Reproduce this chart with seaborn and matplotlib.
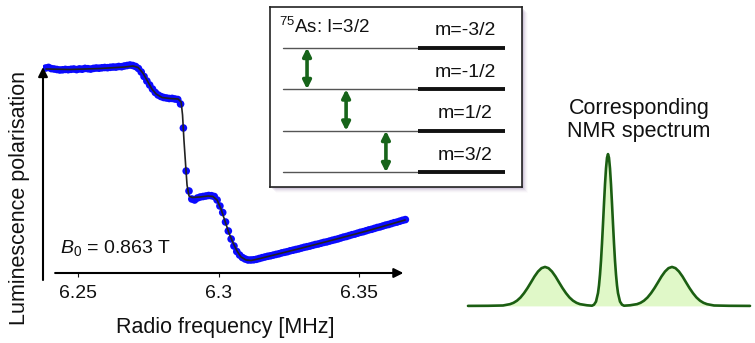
import numpy as np
import pandas as pd
import matplotlib.pyplot as plt
import matplotlib.patches as mpatches
import seaborn as sns

# measured data: luminescence polarisation vs RF frequency (arb. units)
freq = [
    6.2385, 6.2395, 6.2405, 6.2415, 6.2425, 6.2435, 6.2445, 6.2455, 6.2465, 6.2475,
    6.2485, 6.2495, 6.2505, 6.2515, 6.2525, 6.2535, 6.2545, 6.2555, 6.2565, 6.2575,
    6.2585, 6.2595, 6.2605, 6.2615, 6.2625, 6.2635, 6.2645, 6.2655, 6.2665, 6.2675,
    6.2685, 6.2695, 6.2705, 6.2715, 6.2725, 6.2735, 6.2745, 6.2755, 6.2765, 6.2775,
    6.2785, 6.2795, 6.2805, 6.2815, 6.2825, 6.2835, 6.2845, 6.2855, 6.2865, 6.2875,
    6.2885, 6.2895, 6.2905, 6.2915, 6.2925, 6.2935, 6.2945, 6.2955, 6.2965, 6.2975,
    6.2985, 6.2995, 6.3005, 6.3015, 6.3025, 6.3035, 6.3045, 6.3055, 6.3065, 6.3075,
    6.3085, 6.3095, 6.3105, 6.3115, 6.3125, 6.3135, 6.3145, 6.3155, 6.3165, 6.3175,
    6.3185, 6.3195, 6.3205, 6.3215, 6.3225, 6.3235, 6.3245, 6.3255, 6.3265, 6.3275,
    6.3285, 6.3295, 6.3305, 6.3315, 6.3325, 6.3335, 6.3345, 6.3355, 6.3365, 6.3375,
    6.3385, 6.3395, 6.3405, 6.3415, 6.3425, 6.3435, 6.3445, 6.3455, 6.3465, 6.3475,
    6.3485, 6.3495, 6.3505, 6.3515, 6.3525, 6.3535, 6.3545, 6.3555, 6.3565, 6.3575,
    6.3585, 6.3595, 6.3605, 6.3615, 6.3625, 6.3635, 6.3645, 6.3655, 6.3665,
]
pol = [
    20.70, 20.76, 20.64, 20.60, 20.55, 20.50, 20.52, 20.56, 20.53, 20.57,
    20.60, 20.54, 20.61, 20.58, 20.66, 20.63, 20.59, 20.66, 20.70, 20.68,
    20.72, 20.75, 20.73, 20.77, 20.80, 20.79, 20.85, 20.83, 20.90, 20.95,
    21.00, 20.95, 20.85, 20.65, 20.30, 19.85, 19.40, 19.00, 18.60, 18.25,
    18.00, 17.85, 17.75, 17.70, 17.65, 17.66, 17.60, 17.55, 17.10, 14.70,
    10.40, 8.40, 7.60, 7.50, 7.70, 7.80, 7.85, 7.90, 7.95, 7.93,
    7.85, 7.50, 6.90, 6.25, 5.30, 4.40, 3.60, 2.90, 2.35, 2.00,
    1.75, 1.60, 1.50, 1.50, 1.52, 1.57, 1.65, 1.73, 1.80, 1.87,
    1.92, 1.99, 2.06, 2.12, 2.21, 2.27, 2.33, 2.42, 2.48, 2.55,
    2.61, 2.69, 2.77, 2.83, 2.89, 2.97, 3.05, 3.10, 3.18, 3.26,
    3.31, 3.39, 3.47, 3.54, 3.61, 3.70, 3.79, 3.85, 3.94, 4.03,
    4.09, 4.18, 4.27, 4.33, 4.42, 4.51, 4.57, 4.66, 4.75, 4.81,
    4.90, 4.99, 5.05, 5.14, 5.23, 5.29, 5.38, 5.47, 5.54,
]

# fitted curve
fit_freq = [6.2386, 6.2472, 6.2578, 6.2667, 6.2696, 6.2714, 6.2731, 6.2749, 6.2763,
            6.2778, 6.2799, 6.2827, 6.2856, 6.2867, 6.2872, 6.2877, 6.2883, 6.2888,
            6.2895, 6.2906, 6.2934, 6.2963, 6.2980, 6.2995, 6.3009, 6.3023, 6.3037,
            6.3052, 6.3066, 6.3080, 6.3098, 6.3116, 6.3148, 6.3183, 6.3290, 6.3407,
            6.3528, 6.3664]
fit_pol = [20.60, 20.55, 20.65, 20.80, 20.90, 20.75, 20.20, 19.30, 18.60,
           18.10, 17.75, 17.65, 17.60, 17.30, 16.00, 13.50, 11.00, 9.00,
           7.90, 7.75, 7.80, 7.90, 7.85, 7.50, 6.60, 5.40, 4.20,
           3.20, 2.40, 1.80, 1.50, 1.45, 1.65, 1.90, 2.65, 3.50,
           4.40, 5.50]

freq_ticks = [6.25, 6.30, 6.35]
freq_tick_labels = ["6.25", "6.3", "6.35"]

# energy level diagram of 75As (I=3/2)
m_labels = ["m=-3/2", "m=-1/2", "m=1/2", "m=3/2"]
m_values = [-1.5, -0.5, 0.5, 1.5]

# NMR spectrum (arb. frequency offset, intensity)
nmr_x = [-140, -120, -105, -98, -94.5, -91, -87.5, -84, -80.5, -77, -73.5, -70,
         -66.5, -63, -59.5, -56, -52.5, -49, -45.5, -42, -38.5, -35, -31.5, -28,
         -21, -16, -14, -12, -10, -9, -8, -7, -6, -5, -4, -3, -2, -1, 0,
         1, 2, 3, 4, 5, 6, 7, 8, 9, 10, 12, 14, 16,
         22, 29, 32.5, 36, 39.5, 43, 46.5, 50, 53.5, 57, 60.5, 64, 67.5, 71,
         74.5, 78, 81.5, 85, 88.5, 92, 95.5, 99, 106, 121, 142]
nmr_y = [0.0, 0.1, 0.4, 1.7, 3.0, 5.1, 8.2, 12.4, 17.4, 23.0, 28.7, 33.5,
         36.8, 38.0, 36.8, 33.5, 28.7, 23.0, 17.4, 12.4, 8.2, 5.1, 3.0, 1.7,
         0.6, 0.2, 1.2, 4.2, 12.5, 20.0, 30.5, 44.0, 61.0, 80.0, 99.8, 118.5, 134.0, 144.4, 148.0,
         144.4, 134.0, 118.5, 99.8, 80.0, 61.0, 44.0, 30.5, 20.0, 12.5, 4.2, 1.2, 0.2,
         0.6, 1.7, 3.0, 5.1, 8.2, 12.4, 17.4, 23.0, 28.7, 33.5, 36.8, 38.0, 36.8, 33.5,
         28.7, 23.0, 17.4, 12.4, 8.2, 5.1, 3.0, 1.7, 0.4, 0.1, 0.0]

sns.set_theme(style="white")
plt.rcParams['font.family'] = ['Liberation Sans', 'DejaVu Sans']
plt.rcParams['mathtext.fontset'] = 'custom'
plt.rcParams['mathtext.rm'] = 'Liberation Sans'
plt.rcParams['mathtext.it'] = 'Liberation Sans:italic'

W, H = 755, 343


def px_box(l, t, r, b):
    return [l / W, 1 - b / H, (r - l) / W, (b - t) / H]


fig = plt.figure(figsize=(7.55, 3.43), dpi=100)

# ---- main panel ----
ax = fig.add_axes(px_box(43, 60, 410, 273))
ax.patch.set_visible(False)
df = pd.DataFrame({"freq": freq, "pol": pol})
df_fit = pd.DataFrame({"freq": fit_freq, "pol": fit_pol})
sns.scatterplot(data=df, x="freq", y="pol", ax=ax, s=30, color="#0a0aff",
                edgecolor="none", linewidth=0, zorder=2)
sns.lineplot(data=df_fit, x="freq", y="pol", ax=ax, color="#222222", lw=1.2,
             zorder=3, sort=False)
ax.set_xlim(6.23754, 6.36815)
ax.set_ylim(0.2, 21.5)
for s in ax.spines.values():
    s.set_visible(False)
ax.set_yticks([])
ax.set_xticks(freq_ticks)
ax.set_xticklabels(freq_tick_labels, fontsize=14, color="#111111")
ax.tick_params(axis="x", length=3, width=0.8, pad=6, color="#111111", bottom=True)
ax.set_xlabel("")
ax.set_ylabel("")
ax.annotate("", xy=(0, 0.967), xytext=(0, -0.033), xycoords="axes fraction",
            arrowprops=dict(arrowstyle="-|>", lw=1.5, color="black",
                            mutation_scale=14, shrinkA=0, shrinkB=0),
            annotation_clip=False)
ax.annotate("", xy=(0.982, 0), xytext=(0.033, 0), xycoords="axes fraction",
            arrowprops=dict(arrowstyle="-|>", lw=1.5, color="black",
                            mutation_scale=14, shrinkA=0, shrinkB=0),
            annotation_clip=False)

fig.text(225 / W, 1 - 327 / H, "Radio frequency [MHz]", ha="center", va="center",
         fontsize=15.5, color="#111111")
fig.text(20 / W, 1 - 198 / H, "Luminescence polarisation", ha="center", va="center",
         rotation=90, fontsize=15.5, color="#111111")
fig.text(60 / W, 1 - 248 / H, r"$\mathit{B_0}$ = 0.863 T", ha="left", va="center",
         fontsize=14, color="#111111")

# ---- inset: energy levels (with soft drop shadow) ----
for off, a in [(1, 0.16), (2, 0.12), (3, 0.09), (4, 0.06), (5, 0.04), (6, 0.02)]:
    sh = mpatches.Rectangle(((270 + off) / W, 1 - (187 + off) / H), 252 / W, 180 / H,
                            transform=fig.transFigure, facecolor="#6a4a8a", alpha=a,
                            edgecolor="none", zorder=1)
    fig.patches.append(sh)

ins = fig.add_axes(px_box(270, 7, 522, 187))
ins.set_zorder(5)
ins.set_facecolor("white")
ins.set_xlim(0, 1)
ins.set_ylim(-1.854, 2.48)
ins.set_xticks([])
ins.set_yticks([])
for s in ins.spines.values():
    s.set_visible(True)
    s.set_color("#222222")
    s.set_linewidth(1.2)

energies = [-m for m in m_values]
for lab, e in zip(m_labels, energies):
    ins.plot([0.052, 0.587], [e, e], color="#555555", lw=1.0)
    ins.plot([0.587, 0.933], [e, e], color="#111111", lw=2.8, solid_capstyle="butt")
    ins.text(0.774, e + 0.2, lab, ha="center", va="bottom", fontsize=14,
             color="#111111")

arrow_x = [0.147, 0.302, 0.460]
for xa, e1, e2 in zip(arrow_x, energies[:-1], energies[1:]):
    ins.annotate("", xy=(xa, e2), xytext=(xa, e1),
                 arrowprops=dict(arrowstyle="<|-|>", lw=2.6, color="#17641a",
                                 mutation_scale=12, shrinkA=0, shrinkB=0))
ins.text(0.035, 2.0, r"$^{75}$As: I=3/2", ha="left", va="center", fontsize=13.5,
         color="#111111")

# ---- NMR spectrum ----
nmr = fig.add_axes(px_box(460, 150, 752, 310))
df_nmr = pd.DataFrame({"x": nmr_x, "y": nmr_y})
nmr.fill_between(df_nmr["x"], 0, df_nmr["y"], color="#e0f8c8", lw=0)
sns.lineplot(data=df_nmr, x="x", y="y", ax=nmr, color="#1b5e12", lw=1.9)
nmr.set_xlim(-148, 144)
nmr.set_ylim(-4, 152)
nmr.axis("off")
fig.text(639 / W, 1 - 120 / H, "Corresponding\nNMR spectrum", ha="center",
         va="center", fontsize=15.5, linespacing=1.1, color="#111111")

plt.savefig("out.png", dpi=100)
